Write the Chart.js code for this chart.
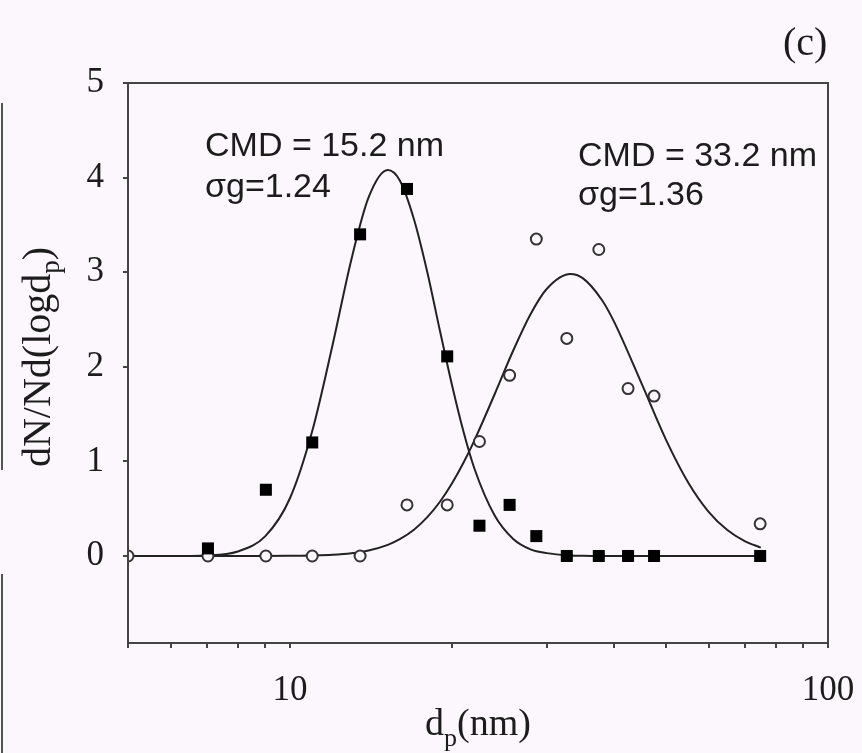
<!DOCTYPE html>
<html>
<head>
<meta charset="utf-8">
<script src="https://cdn.jsdelivr.net/npm/chart.js@4.4.1/dist/chart.umd.min.js"></script>
<style>
  html, body { margin: 0; padding: 0; background: #fcf7fc; }
  #wrap { width: 862px; height: 753px; }
</style>
</head>
<body>
<div id="wrap"><canvas id="chart" width="862" height="753"></canvas></div>
<script>
// measured particle sizes d_p (nm)
const sizes = [5, 7.04, 9.02, 11.0, 13.5, 16.5, 19.6, 22.5, 25.6, 28.7, 32.7, 37.5, 42.5, 47.5, 74.8];
// filled squares and open circles, dN/Nd(logdp)
const filledVals = [null, 0.08, 0.70, 1.20, 3.40, 3.88, 2.11, 0.32, 0.54, 0.21, 0, 0, 0, 0, 0];
const openVals = [0, 0, 0, 0, 0, 0.54, 0.54, 1.21, 1.91, 3.35, 2.30, 3.24, 1.77, 1.69, 0.34];

// fitted curves
const fitSizes = [5, 6, 7, 8, 9, 10, 11, 12, 13, 14, 15.2, 16, 17, 18, 19, 20, 21, 22, 24, 26, 28, 30, 33.2, 35, 38, 40, 45, 50, 55, 60, 65, 70, 75];
const fitSmall = [0, 0, 0.006, 0.048, 0.21, 0.61, 1.32, 2.23, 3.13, 3.79, 4.08, 3.97, 3.56, 3.0, 2.38, 1.81, 1.32, 0.93, 0.43, 0.18, 0.07, 0.03, 0.006, 0.002, 0, 0, 0, 0, 0, 0, 0, 0, 0];
const fitLarge = [0, 0, 0, 0, 0, 0.002, 0.005, 0.012, 0.028, 0.058, 0.118, 0.178, 0.278, 0.41, 0.573, 0.766, 0.982, 1.217, 1.707, 2.172, 2.556, 2.822, 2.98, 2.937, 2.706, 2.48, 1.827, 1.227, 0.774, 0.467, 0.274, 0.157, 0.089];

const xTickValues = [5, 6, 7, 8, 9, 10, 20, 30, 40, 50, 60, 70, 80, 90, 100];
const xTickLabels = ['', '', '', '', '', '10', '', '', '', '', '', '', '', '', '100'];
const yTickValues = [0, 1, 2, 3, 4, 5];

const bg = '#fcf7fc';
const ink = '#1c1c1c';
const axisColor = '#444';

function pairs(xs, ys) {
    const out = [];
    xs.forEach((x, i) => { if (ys[i] !== null) out.push({ x: x, y: ys[i] }); });
    return out;
}

// background, frame, annotations and axis titles
const decorPlugin = {
    id: 'decor',
    beforeDraw(chart) {
        const ctx = chart.ctx;
        ctx.save();
        ctx.fillStyle = bg;
        ctx.fillRect(0, 0, chart.width, chart.height);
        ctx.restore();
    },
    afterDraw(chart) {
        const ctx = chart.ctx;
        const a = chart.chartArea;
        ctx.save();
        ctx.strokeStyle = axisColor;
        ctx.lineWidth = 2;
        ctx.strokeRect(a.left, a.top, a.right - a.left, a.bottom - a.top);

        // scan edge on the left
        ctx.strokeStyle = '#555';
        ctx.beginPath();
        ctx.moveTo(2, 103); ctx.lineTo(2, 470);
        ctx.moveTo(2, 574); ctx.lineTo(2, 753);
        ctx.stroke();

        ctx.fillStyle = ink;
        ctx.textBaseline = 'alphabetic';
        ctx.textAlign = 'left';
        ctx.font = '34px "Liberation Sans", Arial, sans-serif';
        ctx.fillText('CMD = 15.2 nm', 205, 156);
        ctx.fillText('\u03C3g=1.24', 205, 197);
        ctx.fillText('CMD = 33.2 nm', 578, 166);
        ctx.fillText('\u03C3g=1.36', 578, 205);

        ctx.font = '40px "Liberation Serif", "Times New Roman", serif';
        ctx.fillText('(c)', 783, 55);

        // x title d_p(nm)
        const big = '38px "Liberation Serif", "Times New Roman", serif';
        const small = '26px "Liberation Serif", "Times New Roman", serif';
        let x = 425;
        ctx.font = big;
        ctx.fillText('d', x, 735);
        x += ctx.measureText('d').width;
        ctx.font = small;
        ctx.fillText('p', x, 746);
        x += ctx.measureText('p').width;
        ctx.font = big;
        ctx.fillText('(nm)', x, 735);

        // y title dN/Nd(logd_p)
        const yBig = '40px "Liberation Serif", "Times New Roman", serif';
        const ySmall = '27px "Liberation Serif", "Times New Roman", serif';
        ctx.font = yBig;
        const w1 = ctx.measureText('dN/Nd(logd').width;
        const w3 = ctx.measureText(')').width;
        ctx.font = ySmall;
        const w2 = ctx.measureText('p').width;
        ctx.translate(50, 357);
        ctx.rotate(-Math.PI / 2);
        let s = -(w1 + w2 + w3) / 2;
        ctx.font = yBig;
        ctx.fillText('dN/Nd(logd', s, 0);
        s += w1;
        ctx.font = ySmall;
        ctx.fillText('p', s, 9);
        s += w2;
        ctx.font = yBig;
        ctx.fillText(')', s, 0);
        ctx.restore();
    }
};

const tickFont = { family: '"Liberation Serif", "Times New Roman", serif', size: 35 };

new Chart(document.getElementById('chart'), {
    type: 'scatter',
    data: {
        datasets: [
            {
                label: 'fit 15.2 nm',
                data: pairs(fitSizes, fitSmall),
                showLine: true,
                borderColor: '#222',
                borderWidth: 2,
                pointRadius: 0,
                cubicInterpolationMode: 'monotone',
                order: 3
            },
            {
                label: 'fit 33.2 nm',
                data: pairs(fitSizes, fitLarge),
                showLine: true,
                borderColor: '#222',
                borderWidth: 2,
                pointRadius: 0,
                cubicInterpolationMode: 'monotone',
                order: 2
            },
            {
                label: 'open',
                data: pairs(sizes, openVals),
                pointStyle: 'circle',
                pointRadius: 5.5,
                borderWidth: 2,
                borderColor: '#333',
                backgroundColor: bg,
                order: 1
            },
            {
                label: 'filled',
                data: pairs(sizes, filledVals),
                pointStyle: 'rect',
                pointRadius: 8.5,
                borderWidth: 0,
                borderColor: '#000',
                backgroundColor: '#000',
                order: 0
            }
        ]
    },
    options: {
        responsive: false,
        animation: false,
        layout: { padding: { top: 83, right: 34, left: 0, bottom: 0 } },
        plugins: {
            legend: { display: false },
            tooltip: { enabled: false }
        },
        scales: {
            x: {
                type: 'logarithmic',
                min: 5,
                max: 100,
                afterBuildTicks: (axis) => { axis.ticks = xTickValues.map(v => ({ value: v })); },
                afterFit: (axis) => {
                    axis.height = 110;
                    axis.paddingLeft = 0;
                    axis.paddingRight = 0;
                },
                ticks: {
                    autoSkip: false,
                    maxRotation: 0,
                    font: tickFont,
                    color: ink,
                    padding: 22,
                    callback: (value, index) => xTickLabels[index]
                },
                grid: { drawOnChartArea: false, drawTicks: true, tickLength: 5, color: axisColor, lineWidth: 2 },
                border: { display: true, color: axisColor, width: 2 }
            },
            y: {
                type: 'linear',
                min: -0.92,
                max: 5,
                afterBuildTicks: (axis) => { axis.ticks = yTickValues.map(v => ({ value: v })); },
                afterFit: (axis) => {
                    axis.width = 128;
                    axis.paddingTop = 0;
                    axis.paddingBottom = 0;
                },
                ticks: {
                    font: tickFont,
                    color: ink,
                    padding: 19
                },
                grid: { drawOnChartArea: false, drawTicks: true, tickLength: 5, color: axisColor, lineWidth: 2 },
                border: { display: true, color: axisColor, width: 2 }
            }
        }
    },
    plugins: [decorPlugin]
});
</script>
</body>
</html>
